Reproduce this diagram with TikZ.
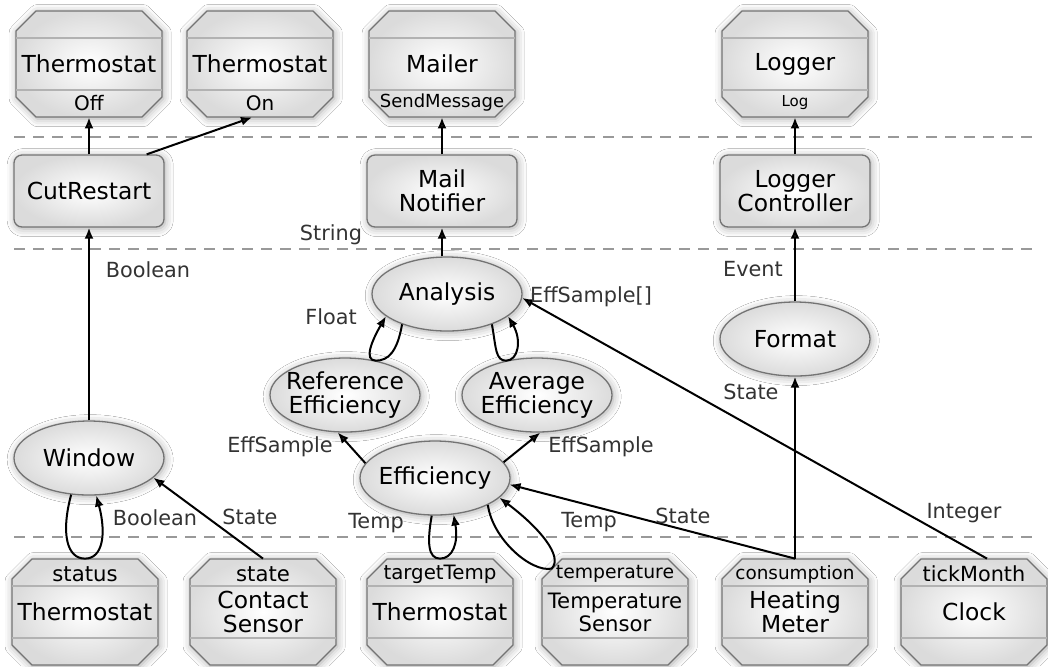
\documentclass[tikz,border=0pt]{standalone}
\usepackage{fontspec}
\setmainfont{DejaVu Sans}
\usetikzlibrary{positioning,arrows.meta,shapes.geometric,shadows.blur}

\tikzset{
  glow/.style={blur shadow={shadow xshift=0.6pt,shadow yshift=-0.8pt,shadow blur radius=4pt,shadow opacity=35}},
  skin/.style={draw=black!55, line width=0.65pt, inner color=white, outer color=black!14, glow},
  comp/.style={ellipse, skin, minimum width=75pt, minimum height=37pt, inner xsep=-4pt, inner ysep=-2pt, align=center, font=\fontsize{11.7}{12}\selectfont},
  ctrl/.style={rectangle, rounded corners=4pt, skin, minimum width=75pt, minimum height=36pt, inner sep=0pt, align=center, font=\fontsize{11.7}{12}\selectfont},
  device/.style={rectangle, minimum width=73pt, minimum height=53pt, inner sep=0pt, align=center, font=\fontsize{11.7}{12}\selectfont},
  devshape/.style={skin, line join=round},
  devsep/.style={draw=black!30, line width=0.6pt},
  port/.style={inner sep=0pt, font=\fontsize{#1}{11}\selectfont},
  port/.default=10.4,
  edge/.style={-{Latex[length=5.5pt,width=4.5pt]}, line width=1pt},
  down/.style={out looseness=1.6, in looseness=0.7},
  up/.style={out looseness=0.7, in looseness=1.6},
  lbl/.style={inner sep=0pt, text=black!80, font=\fontsize{10.4}{11}\selectfont},
  layer/.style={dash pattern=on 5.5pt off 4pt, draw=black!40, line width=1pt}
}

\begin{document}
\begin{tikzpicture}[x=0.5pt,y=-0.5pt]
  \fill[white] (0,0) rectangle (1048,666);
  \useasboundingbox (0,0) rectangle (1048,666);

  % layers
  \draw[layer] (14,137) -- (1036,137);
  \draw[layer] (14,249) -- (1036,249);
  \draw[layer] (14,537) -- (1036,537);

  % device outlines
  \foreach \x/\y in {89/64, 260/64, 442/64, 795/64, 85/612, 263/612, 440/612, 615/612, 795/612, 974/612} {
    \path[devshape] (\x-73,\y-33) -- (\x-53,\y-53) -- (\x+53,\y-53) -- (\x+73,\y-33)
      -- (\x+73,\y+33) -- (\x+53,\y+53) -- (\x-53,\y+53) -- (\x-73,\y+33) -- cycle;
    \draw[devsep] (\x-73,\y-26) -- (\x+73,\y-26) (\x-73,\y+26) -- (\x+73,\y+26);
  }

  \node[device] (tOff) at (89,64) {Thermostat};
  \node[device] (tOn) at (260,64) {Thermostat};
  \node[device] (mailer) at (442,64) {Mailer};
  \node[device] (logger) at (795,64) {Logger};
  \node[port=10] (tOffP) at (89,103) {Off};
  \node[port=10] (tOnP) at (260,103) {On};
  \node[port=9] (mailerP) at (442,103) {SendMessage};
  \node[port=7.5] (loggerP) at (795,103) {Log};

  \node[ctrl] (cut) at (89,191) {CutRestart};
  \node[ctrl] (notif) at (442,191) {Mail\\Notifier};
  \node[ctrl] (logCtrl) at (795,191) {Logger\\Controller};

  \node[comp] (ana) at (447,294) {Analysis};
  \node[comp] (fmt) at (795,339) {Format};
  \node[comp] (refEff) at (345,395) {Reference\\Efficiency};
  \node[comp] (avgEff) at (537,395) {Average\\Efficiency};
  \node[comp] (win) at (89,458) {Window};
  \node[comp] (eff) at (435,478) {Efficiency};

  \node[device] (tStat) at (85,612) {Thermostat};
  \node[device] (contact) at (263,612) {Contact\\Sensor};
  \node[device] (tTarget) at (440,612) {Thermostat};
  \node[device, font=\fontsize{10.6}{11.5}\selectfont] (tempS) at (615,612) {Temperature\\Sensor};
  \node[device] (heat) at (795,612) {Heating\\Meter};
  \node[device] (clock) at (974,612) {Clock};
  \node[port=10.6] (tStatP) at (85,574) {status};
  \node[port=10.6] (contactP) at (263,574) {state};
  \node[port=9.9] (tTargetP) at (440,574) {targetTemp};
  \node[port=9.4] (tempSP) at (615,574) {temperature};
  \node[port=9.2] (heatP) at (795,574) {consumption};
  \node[port=10.4] (clockP) at (974,574) {tickMonth};

  % connectors
  \draw[edge] (cut.north) -- (tOff.south);
  \draw[edge] ([xshift=-9pt]cut.north east) -- ([xshift=-4pt]tOn.south);
  \draw[edge] (notif.north) -- (mailer.south);
  \draw[edge] (logCtrl.north) -- (logger.south);
  \draw[edge] (win.north) -- (cut.south);
  \draw[edge] (ana.north -| notif) -- (notif.south);
  \draw[edge] (fmt.north) -- (logCtrl.south);
  \draw[edge] (heat.north) -- (fmt.south);
  \draw[edge] (heat.north) -- (eff.355);
  \draw[edge] ([xshift=6.5pt]clock.north) -- (ana.357);
  \draw[edge] (contact.north) -- (win.343);
  \draw[edge] (eff.168) -- (refEff.259);
  \draw[edge] (eff.13) -- (avgEff.275);
  \draw[edge] (ana.214) to[down,out=-100,in=0] (refEff.48) to[up,out=180,in=-120] (ana.200);
  \draw[edge] (ana.326) to[down,out=-80,in=180] (avgEff.132) to[up,out=0,in=-60] (ana.340);
  \draw[edge] (win.244) to[down,out=-105,in=180] (tStat.north) to[up,out=0,in=-75] (win.281);
  \draw[edge] (eff.265) to[down,out=-100,in=180] (tTarget.north) to[up,out=0,in=-80] (eff.297);
  \draw[edge] (eff.333) .. controls +(5,35) and +(-20,4) .. ([shift={(10,10)}]tempS.north west)
    .. controls +(12,-12) and +(40,30) .. (eff.343);

  % labels
  \node[lbl] (lBoolCut) at (148,270) {Boolean};
  \node[lbl] (lString) at (331,235) {String};
  \node[lbl] (lEvent) at (753,269) {Event};
  \node[lbl] (lSamples) at (591,297) {EffSample[]};
  \node[lbl] (lFloat) at (331,317) {Float};
  \node[lbl] (lStateFmt) at (751,392) {State};
  \node[lbl] (lRef) at (280,447) {EffSample};
  \node[lbl] (lAvg) at (601,447) {EffSample};
  \node[lbl] (lBoolWin) at (155,518) {Boolean};
  \node[lbl] (lStateWin) at (250,517) {State};
  \node[lbl] (lTempT) at (376,523) {Temp};
  \node[lbl] (lTempS) at (589,522) {Temp};
  \node[lbl] (lStateEff) at (683,516) {State};
  \node[lbl] (lInt) at (964,513) {Integer};
\end{tikzpicture}
\end{document}
